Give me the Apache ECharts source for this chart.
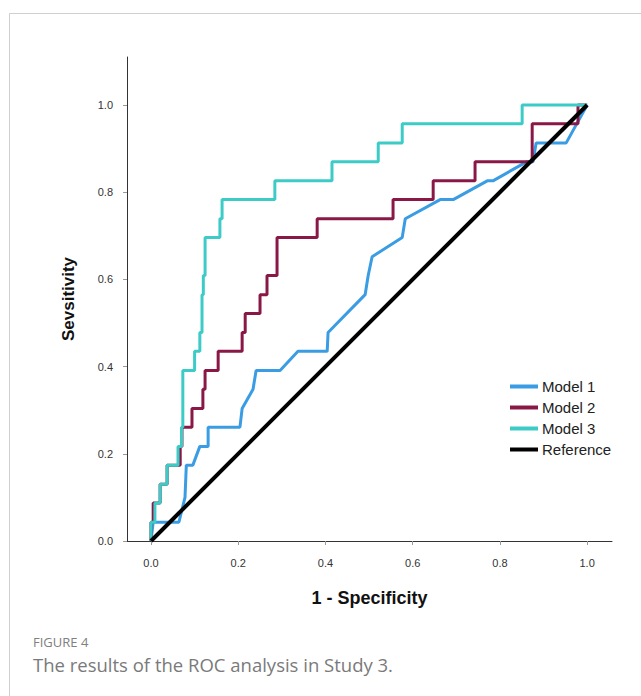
<!DOCTYPE html>
<html>
<head>
<meta charset="utf-8">
<script src="https://cdn.jsdelivr.net/npm/echarts@6/dist/echarts.min.js"></script>
<style>
html,body{margin:0;padding:0;background:#fff;}
#chart{width:641px;height:696px;}
</style>
</head>
<body>
<div id="chart"></div>
<script>
// ---- data (1 - specificity, sensitivity) ----
const seriesNames = ['Model 1', 'Model 2', 'Model 3', 'Reference'];
const tickValues = [0, 0.2, 0.4, 0.6, 0.8, 1.0];

const model1 = [
  [0,0],[0.005,0.043],[0.064,0.043],[0.078,0.100],[0.081,0.174],[0.096,0.174],
  [0.112,0.217],[0.131,0.217],[0.131,0.261],[0.204,0.261],[0.209,0.304],
  [0.234,0.348],[0.241,0.391],[0.296,0.391],[0.337,0.435],[0.404,0.435],
  [0.406,0.478],[0.491,0.565],[0.498,0.609],[0.507,0.652],[0.576,0.696],
  [0.583,0.739],[0.663,0.783],[0.693,0.783],[0.771,0.826],[0.784,0.826],
  [0.862,0.870],[0.876,0.870],[0.883,0.913],[0.952,0.913],[1,1]
];
const model2 = [
  [0,0],[0,0.043],[0.005,0.043],[0.005,0.087],[0.021,0.087],[0.021,0.130],
  [0.037,0.130],[0.037,0.174],[0.067,0.174],[0.067,0.217],[0.071,0.217],
  [0.071,0.261],[0.094,0.261],[0.094,0.304],[0.119,0.304],[0.119,0.348],
  [0.124,0.348],[0.124,0.391],[0.154,0.391],[0.154,0.435],[0.209,0.435],
  [0.209,0.478],[0.216,0.478],[0.216,0.522],[0.250,0.522],[0.250,0.565],
  [0.266,0.565],[0.266,0.609],[0.289,0.609],[0.289,0.696],[0.381,0.696],
  [0.381,0.739],[0.555,0.739],[0.555,0.783],[0.647,0.783],[0.647,0.826],
  [0.743,0.826],[0.743,0.870],[0.874,0.870],[0.874,0.957],[0.979,0.957],
  [0.979,1],[1,1]
];
const model3 = [
  [0,0],[0,0.043],[0.009,0.043],[0.009,0.087],[0.021,0.087],[0.021,0.130],
  [0.037,0.130],[0.037,0.174],[0.062,0.174],[0.062,0.217],[0.070,0.217],
  [0.070,0.261],[0.073,0.261],[0.073,0.391],[0.100,0.391],[0.100,0.435],
  [0.112,0.435],[0.112,0.478],[0.117,0.478],[0.117,0.565],[0.120,0.565],
  [0.120,0.609],[0.124,0.609],[0.124,0.696],[0.158,0.696],[0.158,0.739],
  [0.163,0.739],[0.163,0.783],[0.284,0.783],[0.284,0.826],[0.415,0.826],
  [0.415,0.870],[0.521,0.870],[0.521,0.913],[0.576,0.913],[0.576,0.957],
  [0.851,0.957],[0.851,1],[1,1]
];
const reference = [[0,0],[1,1]];

const colors = ['#3a9de3', '#8a1846', '#3ccbc6', '#000000'];
const widths = [3, 3, 3, 4];
const datasets = [model1, model2, model3, reference];

const chart = echarts.init(document.getElementById('chart'), null, {renderer: 'svg'});
const axisFont = 'Liberation Sans, Arial, sans-serif';

chart.setOption({
  animation: false,
  backgroundColor: '#fff',
  grid: {left: 127, right: 29, top: 57, bottom: 155, containLabel: false},
  xAxis: {
    type: 'value', min: -0.055, max: 1.057,
    name: '1 - Specificity', nameLocation: 'middle', nameGap: 48,
    nameTextStyle: {fontFamily: axisFont, fontSize: 18, fontWeight: 'bold', color: '#111'},
    axisLine: {show: true, onZero: false, lineStyle: {color: '#333', width: 1}},
    axisTick: {show: true, length: 4, customValues: tickValues, lineStyle: {color: '#999'}},
    axisLabel: {customValues: tickValues, margin: 16, fontFamily: axisFont, fontSize: 11, color: '#333',
      formatter: v => v.toFixed(1)},
    splitLine: {show: false}
  },
  yAxis: {
    type: 'value', min: 0, max: 1.11,
    name: 'Sevsitivity', nameLocation: 'middle', nameGap: 50, nameRotate: 90,
    nameTextStyle: {fontFamily: axisFont, fontSize: 17, fontWeight: 'bold', color: '#111'},
    axisLine: {show: true, onZero: false, lineStyle: {color: '#333', width: 1}},
    axisTick: {show: true, length: 4, customValues: tickValues, lineStyle: {color: '#999'}},
    axisLabel: {customValues: tickValues, margin: 14, fontFamily: axisFont, fontSize: 11, color: '#333',
      formatter: v => v.toFixed(1)},
    splitLine: {show: false}
  },
  legend: {
    orient: 'vertical', left: 505, top: 374,
    icon: 'rect', itemWidth: 28, itemHeight: 4, itemGap: 6,
    textStyle: {fontFamily: axisFont, fontSize: 15, color: '#222', padding: [0, 0, 0, -1]},
    data: seriesNames
  },
  series: seriesNames.map((n, i) => ({
    name: n, type: 'line', data: datasets[i], showSymbol: false, symbol: 'none',
    color: colors[i], lineStyle: {color: colors[i], width: widths[i]},
    z: 2 + i, clip: true
  })),
  graphic: [
    {type: 'line', shape: {x1: 9.5, y1: 13.5, x2: 641, y2: 13.5}, style: {stroke: '#cfcfcf', lineWidth: 1}},
    {type: 'line', shape: {x1: 9.5, y1: 13.5, x2: 9.5, y2: 696}, style: {stroke: '#cfcfcf', lineWidth: 1}},
    {type: 'text', left: 33, top: 635, style: {text: 'FIGURE 4', font: '13px "Open Sans", sans-serif', fill: '#808080'}},
    {type: 'text', left: 33, top: 655, style: {text: 'The results of the ROC analysis in Study 3.', font: '18.5px "Open Sans", sans-serif', fill: '#7a7a7a'}}
  ]
});
</script>
</body>
</html>
